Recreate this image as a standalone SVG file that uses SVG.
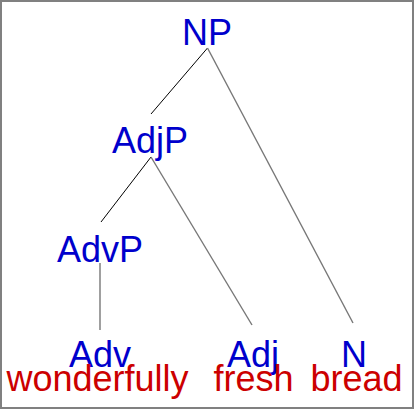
<svg xmlns="http://www.w3.org/2000/svg" width="415" height="410" viewBox="0 0 415 410">
<style>
text{font-family:"Liberation Sans",Arial,sans-serif;font-size:36px;text-anchor:middle}
.cat{fill:#0000cc}
.word{fill:#cc0000}
.e{stroke:#777;stroke-width:1.4;fill:none}
.k{stroke:#000;stroke-width:1;fill:none}
</style>
<rect x="1" y="1" width="412" height="407" fill="#fff" stroke="#808080" stroke-width="2"/>
<g id="connectors">
<line class="k" x1="207.5" y1="48" x2="151" y2="114"/>
<line class="e" x1="207.5" y1="48" x2="353" y2="323"/>
<line class="k" x1="151" y1="157" x2="101" y2="222"/>
<line class="e" x1="151" y1="157" x2="252" y2="325"/>
<line class="e" x1="100" y1="263" x2="100" y2="330"/>
</g>
<g id="NP"><text class="cat" x="207" y="45">NP</text></g>
<g id="AdjP"><text class="cat" x="150" y="153">AdjP</text></g>
<g id="AdvP"><text class="cat" x="100" y="262">AdvP</text></g>
<g id="Adv"><text class="cat" x="100" y="367">Adv</text><text class="word" x="97.5" y="391">wonderfully</text></g>
<g id="Adj"><text class="cat" x="253" y="367">Adj</text><text class="word" x="253.5" y="391">fresh</text></g>
<g id="N"><text class="cat" x="354" y="367">N</text><text class="word" x="356.5" y="391">bread</text></g>
</svg>
